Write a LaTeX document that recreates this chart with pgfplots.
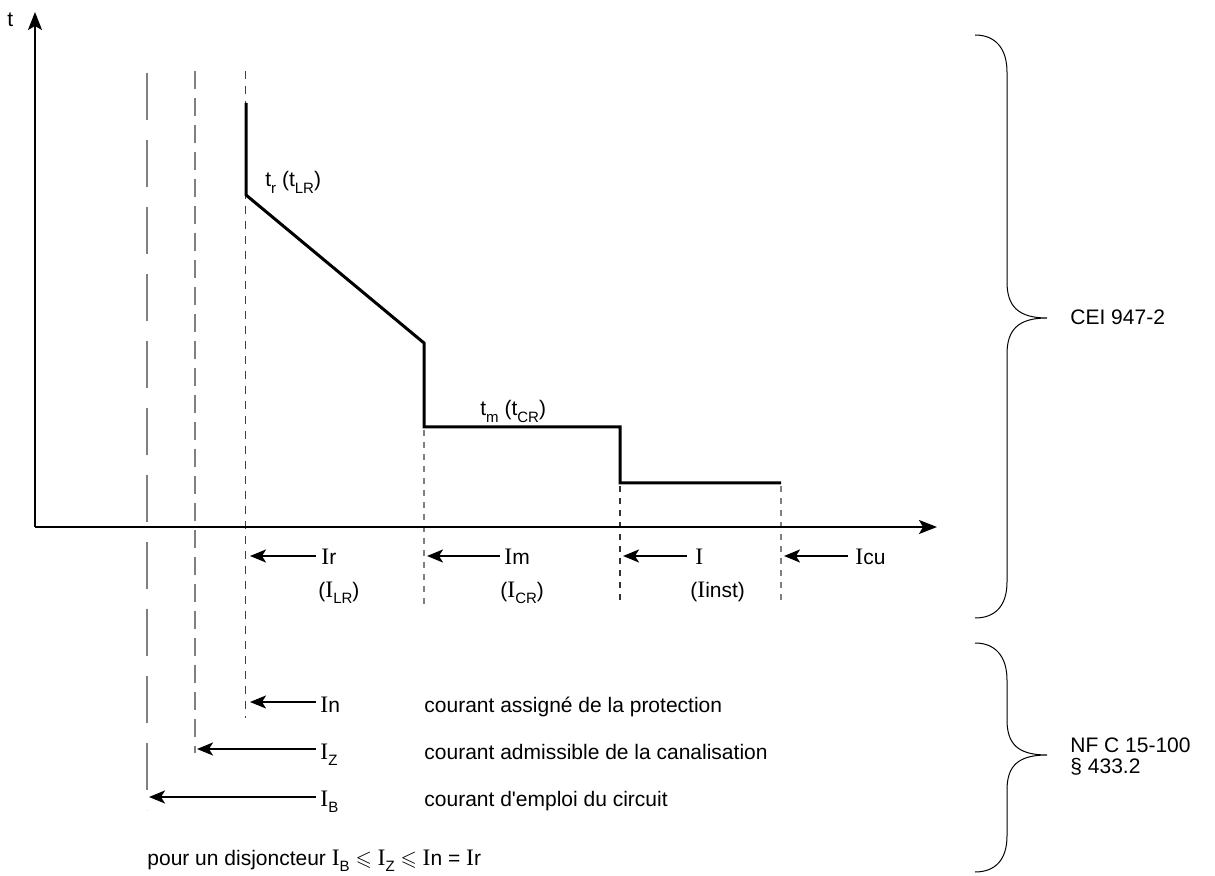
\documentclass[border=0pt]{standalone}
\usepackage{fontspec}
\setmainfont{Liberation Sans}
\newfontfamily\serf{Liberation Serif}
\newcommand{\ser}{\serf\fontsize{11.8}{13}\selectfont}
\newcommand{\I}{{\ser I}}
\usepackage{amssymb}
\usepackage{pgfplots}
\pgfplotsset{compat=1.18}
\usetikzlibrary{arrows.meta}
\newcommand{\sub}[1]{\raisebox{-0.55ex}{\fontsize{7.5}{8}\selectfont #1}}
\begin{document}
\begin{tikzpicture}[every node/.style={font=\fontsize{10.5}{12}\selectfont, inner sep=0pt}]
\begin{axis}[hide axis, scale only axis, width=607.5pt, height=438pt,
  xmin=0, xmax=1215, ymin=0, ymax=876, y dir=reverse, clip=false]
\path (axis cs:0,0) rectangle (axis cs:1215,876);
% reference lines (dashed)
\addplot[gray, line width=0.75pt, dash pattern=on 23.5pt off 10pt] coordinates {(147,73) (147,810)};
\addplot[gray, line width=0.75pt, dash pattern=on 9pt off 4.5pt] coordinates {(195,71) (195,753)};
\addplot[black!75, line width=0.5pt, dash pattern=on 4pt off 3.5pt] coordinates {(245.5,71) (245.5,718)};
\addplot[gray, line width=0.6pt, dash pattern=on 3pt off 3pt] coordinates {(424,430) (424,605)};
\addplot[black!80, line width=0.6pt, dash pattern=on 3pt off 3pt] coordinates {(620,486) (620,605)};
\addplot[gray, line width=0.6pt, dash pattern=on 3pt off 3pt] coordinates {(781,486) (781,605)};
% tripping curve
\addplot[black, line width=1.5pt, line join=miter] coordinates {(246,103) (246,195) (424,343) (424,427) (620,427) (620,483) (781,483)};
% axes
\draw[line width=1pt, -{Stealth[length=9pt, width=7pt, inset=2pt]}] (axis cs:35,527) -- (axis cs:937,527);
\draw[line width=1pt, -{Stealth[length=9pt, width=7pt, inset=2pt]}] (axis cs:35,527) -- (axis cs:35,12);
\node[anchor=base west] at (axis cs:7,27) {t};
% labels on curve
\node[anchor=base west] at (axis cs:265,187) {t\sub{r} (t\sub{LR})};
\node[anchor=base west] at (axis cs:480,416) {t\sub{m} (t\sub{CR})};
% setting arrows
\tikzset{setarr/.style={line width=1pt, -{Stealth[length=8pt, width=6.5pt, inset=2pt]}}}
\draw[setarr] (axis cs:316,556) -- (axis cs:250,556);
\draw[setarr] (axis cs:500,556) -- (axis cs:427,556);
\draw[setarr] (axis cs:687,556) -- (axis cs:623,556);
\draw[setarr] (axis cs:848,556) -- (axis cs:784,556);
\node[anchor=base west] at (axis cs:321,565) {\I r};
\node[anchor=base west] at (axis cs:318,597) {(\I\sub{LR})};
\node[anchor=base west] at (axis cs:504,565) {\I m};
\node[anchor=base west] at (axis cs:500,597) {(\I\sub{CR})};
\node[anchor=base west] at (axis cs:695,565) {\I};
\node[anchor=base west] at (axis cs:690,597) {(\I inst)};
\node[anchor=base west] at (axis cs:855,565) {\I cu};
% NF C 15-100 arrows
\draw[setarr] (axis cs:316,702) -- (axis cs:250,702);
\draw[setarr] (axis cs:316,749) -- (axis cs:197,749);
\draw[setarr] (axis cs:316,797) -- (axis cs:149,797);
\node[anchor=base west] at (axis cs:320,712) {\I n};
\node[anchor=base west] at (axis cs:320,759) {\I\sub{Z}};
\node[anchor=base west] at (axis cs:320,806) {\I\sub{B}};
\node[anchor=base west] at (axis cs:424,712) {courant assigné de la protection};
\node[anchor=base west] at (axis cs:424,759) {courant admissible de la canalisation};
\node[anchor=base west] at (axis cs:424,806) {courant d\textquotesingle emploi du circuit};
\node[anchor=base west] at (axis cs:147,865) {pour un disjoncteur \I\sub{B} $\leqslant$ \I\sub{Z} $\leqslant$ \I n = \I r};
% braces
\draw[line width=0.5pt] (axis cs:975,35) .. controls (axis cs:995,35) and (axis cs:1007,48) .. (axis cs:1007,72) -- (axis cs:1007,282)
  .. controls (axis cs:1007,306) and (axis cs:1018,318) .. (axis cs:1047,318)
  (axis cs:1047,318) .. controls (axis cs:1018,318) and (axis cs:1007,330) .. (axis cs:1007,354) -- (axis cs:1007,582)
  .. controls (axis cs:1007,606) and (axis cs:995,618) .. (axis cs:975,618);
\draw[line width=0.5pt] (axis cs:975,643) .. controls (axis cs:995,643) and (axis cs:1007,656) .. (axis cs:1007,680) -- (axis cs:1007,720)
  .. controls (axis cs:1007,744) and (axis cs:1018,755) .. (axis cs:1047,755)
  (axis cs:1047,755) .. controls (axis cs:1018,755) and (axis cs:1007,766) .. (axis cs:1007,790) -- (axis cs:1007,836)
  .. controls (axis cs:1007,860) and (axis cs:995,872) .. (axis cs:975,872);
\node[anchor=base west] at (axis cs:1070,325) {CEI 947-2};
\node[anchor=base west] at (axis cs:1070,752) {NF C 15-100};
\node[anchor=base west] at (axis cs:1070,773) {\S\ 433.2};
\end{axis}
\end{tikzpicture}
\end{document}
